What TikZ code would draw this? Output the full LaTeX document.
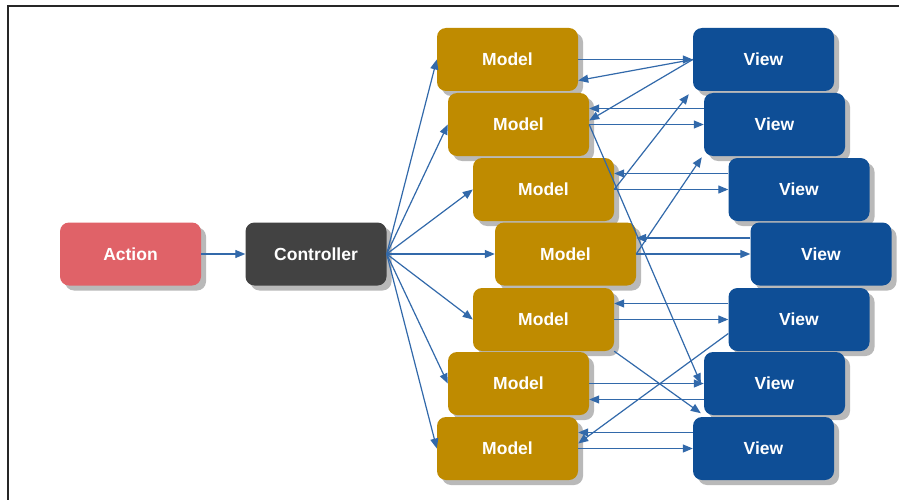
\documentclass[tikz,border=0pt]{standalone}
\usepackage{fontspec}
\setmainfont{Liberation Sans}
\usetikzlibrary{arrows.meta,shadows}
\definecolor{actcol}{RGB}{224,98,104}
\definecolor{ctlcol}{RGB}{66,66,66}
\definecolor{modcol}{RGB}{191,139,0}
\definecolor{viewcol}{RGB}{14,78,150}
\definecolor{arrcol}{RGB}{50,105,170}
\definecolor{shcol}{RGB}{185,185,185}
\begin{document}
\begin{tikzpicture}[x=1pt,y=-1pt,
  box/.style={rounded corners=9pt, minimum width=141pt, minimum height=63pt,
    inner sep=0pt, text=white, font=\bfseries\fontsize{17.5}{20}\selectfont,
    drop shadow={shadow xshift=5pt, shadow yshift=-5pt, fill=shcol, opacity=1}},
  actbox/.style={box, fill=actcol},
  ctlbox/.style={box, fill=ctlcol},
  modbox/.style={box, fill=modcol},
  viewbox/.style={box, fill=viewcol},
  conn/.style={draw=arrcol, line width=1.2pt, -{Triangle[length=10pt,width=8pt]}}
]
\useasboundingbox (0,0) rectangle (899,500);
\fill[white] (0,0) rectangle (899,500);
\draw[line width=1.6pt, black!85] (8,500) -- (8,6) -- (899,6);

\node[actbox] (A) at (130.5,254) {Action};
\node[ctlbox] (C) at (316,254) {Controller};

\node[modbox] (M1) at (507.5,59.5) {Model};
\node[modbox] (M2) at (518.5,124.5) {Model};
\node[modbox] (M3) at (543.5,189.5) {Model};
\node[modbox] (M4) at (565.5,254) {Model};
\node[modbox] (M5) at (543.5,319.5) {Model};
\node[modbox] (M6) at (518.5,383.5) {Model};
\node[modbox] (M7) at (507.5,448.5) {Model};

\node[viewbox] (V1) at (763.5,59.5) {View};
\node[viewbox] (V2) at (774.5,124.5) {View};
\node[viewbox] (V3) at (799,189.5) {View};
\node[viewbox] (V4) at (821,254) {View};
\node[viewbox] (V5) at (799,319.5) {View};
\node[viewbox] (V6) at (774.5,383.5) {View};
\node[viewbox] (V7) at (763.5,448.5) {View};

\draw[conn] (A) -- (C);
\foreach \m in {M1,M2,M3,M4,M5,M6,M7}
  \draw[conn] (C.east) -- (\m.west);

% horizontal pairs
\foreach \i in {1,...,7}
  \draw[conn] (M\i.east) -- (V\i.west);
\foreach \i in {2,3,4,5,7}
  \draw[conn] ([yshift=16pt]V\i.west) -- ([yshift=16pt]M\i.east);
\draw[conn] ([yshift=-16pt]V6.west) -- ([yshift=-16pt]M6.east);

% slanted
\draw[conn] (V1.west) -- ([yshift=-21pt]M1.east);
\draw[conn] (V1.west) -- ([yshift=4pt]M2.east);
\draw[conn] (M3.east) -- ([xshift=-4pt,yshift=-3pt]V1.south west);
\draw[conn] (M4.east) -- ([xshift=-2pt,yshift=-1pt]V2.south west);
\draw[conn] (M2.east) -- ([xshift=-3pt]V6.west);
\draw[conn] (M5.south east) -- ([xshift=-3pt,yshift=2pt]V6.south west);
\draw[conn] ([yshift=-14pt]V5.west) -- ([yshift=5pt]M7.east);
\end{tikzpicture}
\end{document}
